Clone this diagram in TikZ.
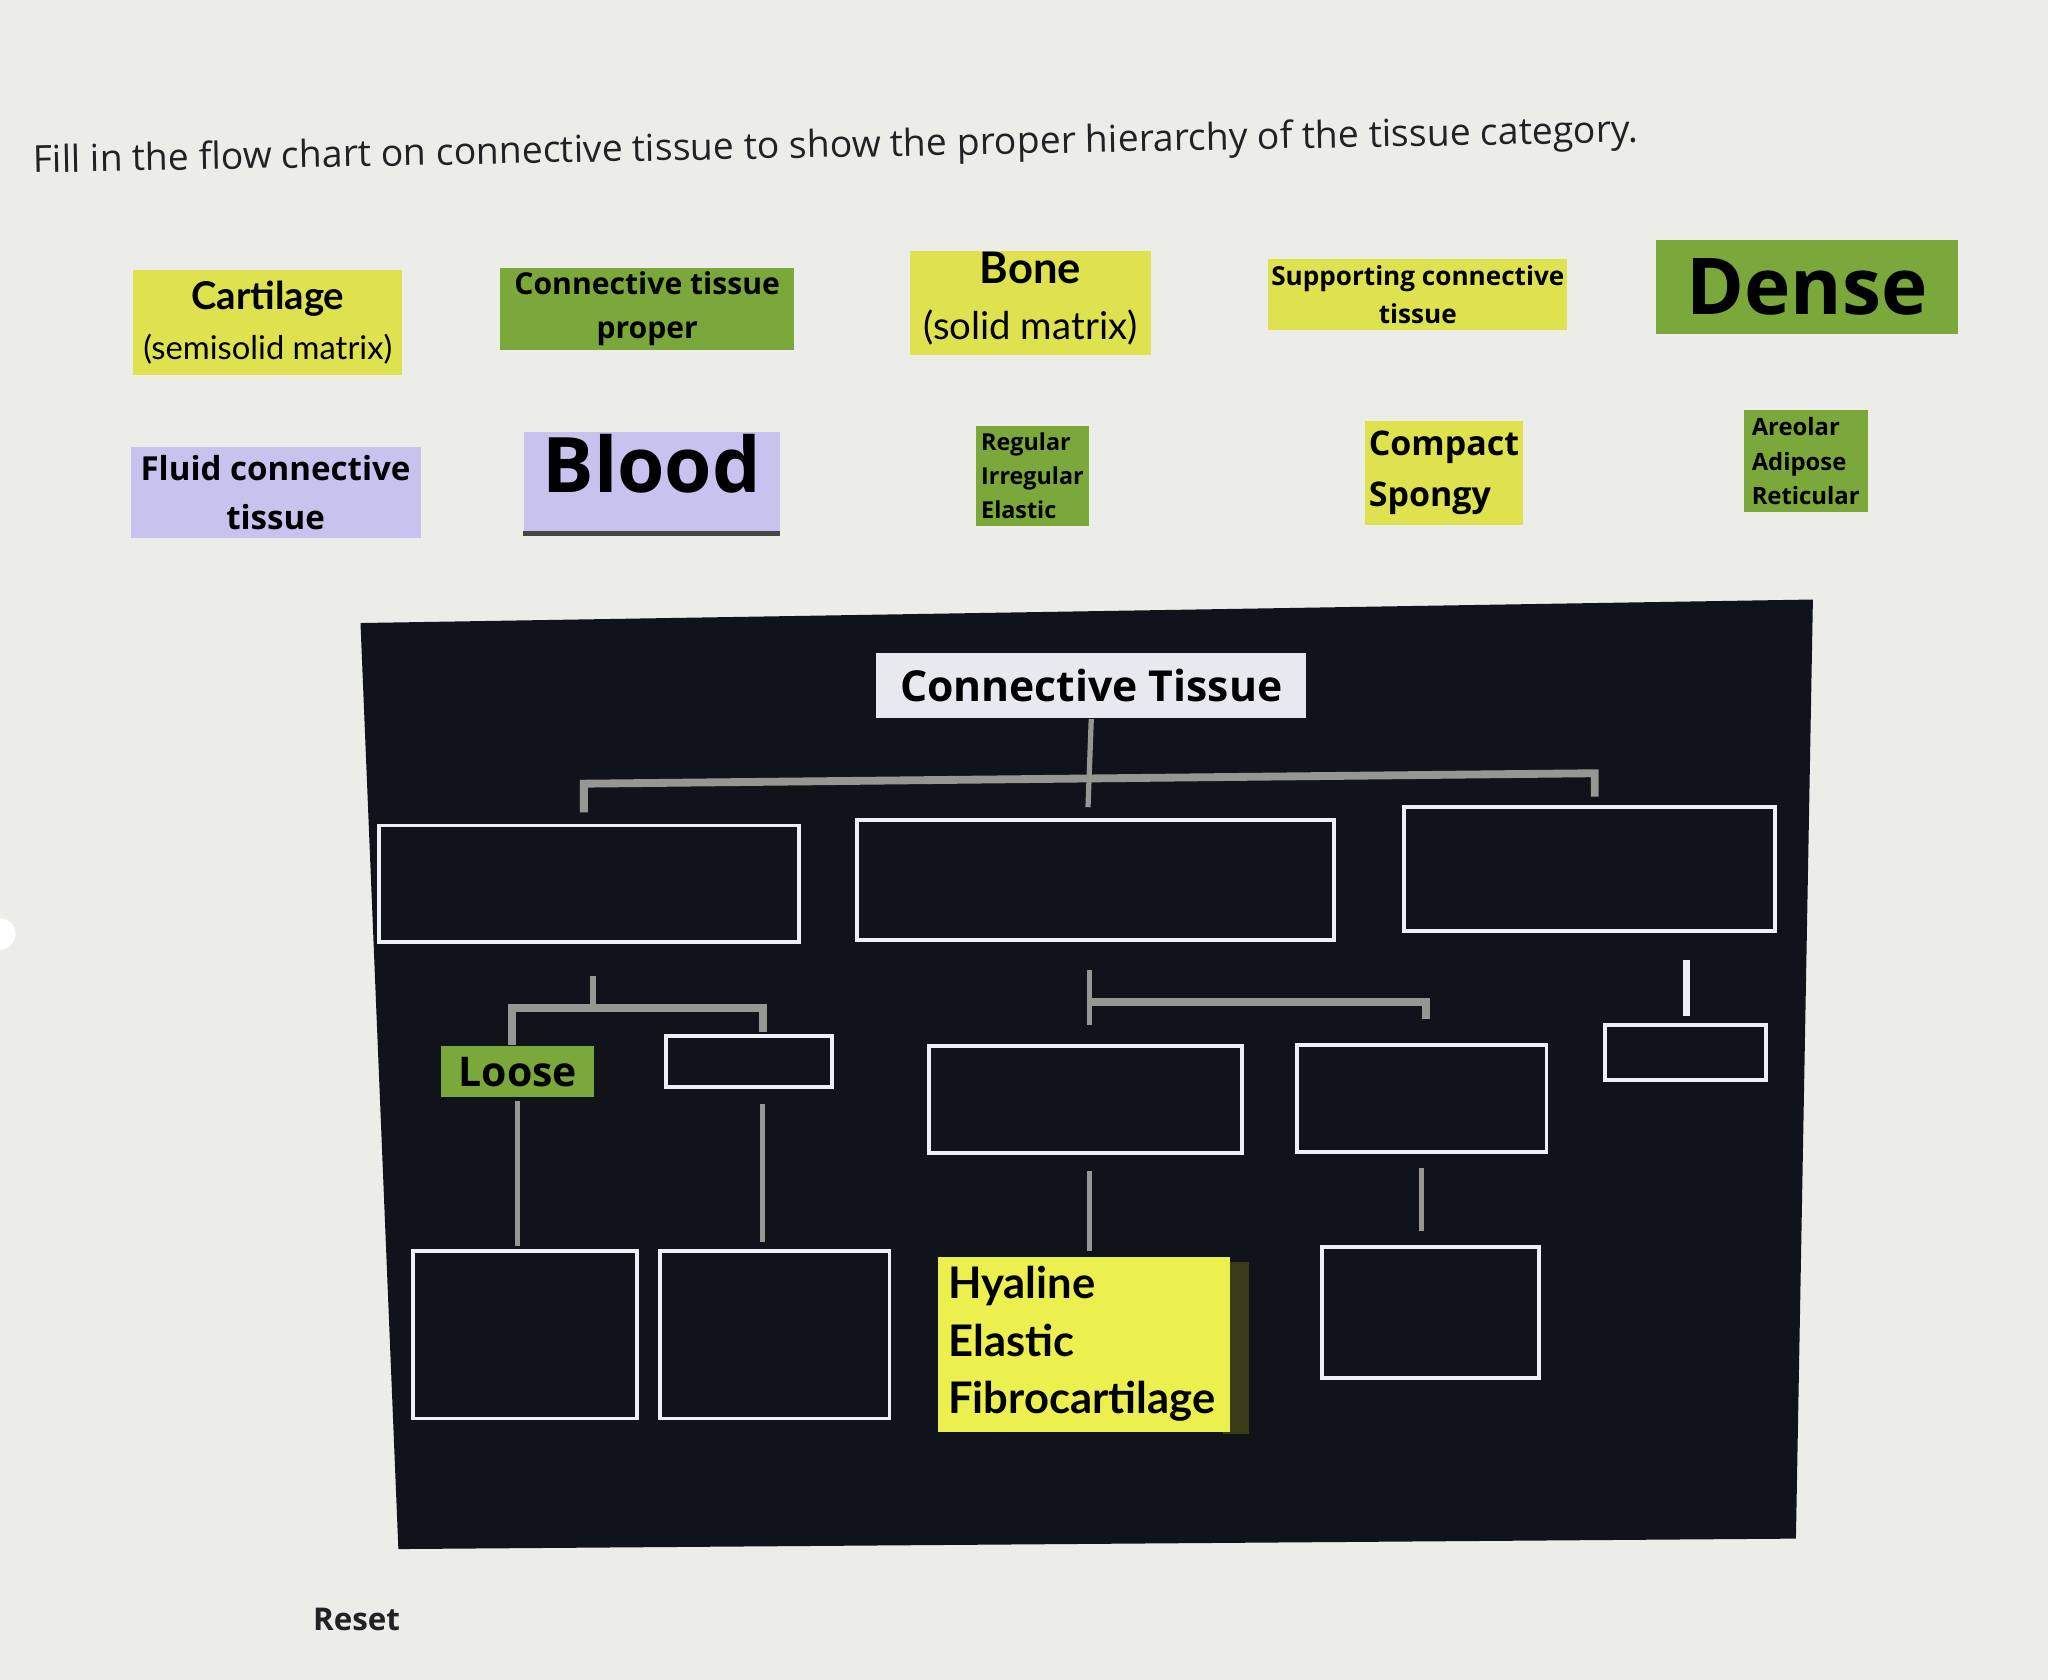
\documentclass[tikz,border=0pt]{standalone}
\usepackage{fontspec}
\setmainfont{Open Sans}
\newfontfamily\gill{Lato}

\definecolor{paper}{RGB}{236,236,233}
\definecolor{tileyellow}{RGB}{222,226,78}
\definecolor{hyyellow}{RGB}{236,240,78}
\definecolor{hyshade}{RGB}{58,60,24}
\definecolor{tilegreen}{RGB}{122,168,58}
\definecolor{tilelilac}{RGB}{199,194,238}
\definecolor{board}{RGB}{16,19,25}
\definecolor{linkgrey}{RGB}{150,150,146}
\definecolor{boxwhite}{RGB}{236,240,244}
\definecolor{headgrey}{RGB}{232,233,238}
\definecolor{inkgrey}{RGB}{34,34,38}
\definecolor{bloodedge}{RGB}{70,70,70}

\tikzset{every picture/.style={line width=0.75pt}}
\tikzset{
  tile/.style={inner sep=0pt, align=center, text=black},
  yellowtile/.style={tile, fill=tileyellow},
  greentile/.style={tile, fill=tilegreen},
  lilactile/.style={tile, fill=tilelilac},
  slot/.style={draw=boxwhite, line width=2.25pt, fill=board, inner sep=0pt},
  stem/.style={draw=linkgrey, line width=3pt},
  bar/.style={draw=linkgrey, line width=4.5pt},
}

\begin{document}
\begin{tikzpicture}[x=0.75pt,y=0.75pt,yscale=-1,xscale=1]
\fill[paper] (0,0) rectangle (1568,1286);
\useasboundingbox (0,0) rectangle (1568,1286);
\fill[white] (0,715) circle (12);

\node[font={\fontsize{21.4}{25}\selectfont}, text=inkgrey, rotate=1.1] (title) at (640,113) {Fill in the flow chart on connective tissue to show the proper hierarchy of the tissue category.};

% tiles
\node[yellowtile, minimum width=154.5pt, minimum height=60pt, font={\gill\fontsize{18.8}{28.5}\selectfont}] (cart) at (205,247) {{\fontsize{22}{28.5}\selectfont\bfseries Cartilage}\\(semisolid matrix)};
\node[greentile, minimum width=168.75pt, minimum height=47.25pt, font={\fontsize{17.3}{25}\selectfont\bfseries}] (ctp) at (495.5,236.5) {Connective tissue\\proper};
\node[yellowtile, minimum width=138pt, minimum height=60pt, font={\gill\fontsize{22}{32}\selectfont}, text depth=8pt] (bone) at (789,232) {{\fontsize{25}{32}\selectfont\bfseries Bone}\\(solid matrix)};
\node[yellowtile, minimum width=171.75pt, minimum height=41.25pt, font={\fontsize{15}{22}\selectfont\bfseries}] (supp) at (1085.5,225.5) {Supporting connective\\tissue};
\node[greentile, minimum width=173.25pt, minimum height=54pt, font={\fontsize{45}{48}\selectfont\bfseries}] (dense) at (1383.5,220) {Dense};

\node[lilactile, minimum width=166.5pt, minimum height=52.5pt, font={\fontsize{19}{28.5}\selectfont\bfseries}] (fluid) at (211,377) {Fluid connective\\tissue};
\node[lilactile, minimum width=147pt, minimum height=57.75pt, font={\fontsize{44}{46}\selectfont\bfseries}, text depth=22pt] (blood) at (499,369.5) {Blood};
\draw[line width=3pt, draw=bloodedge] (blood.south west) -- (blood.south east);
\node[greentile, minimum width=65.25pt, minimum height=57.75pt, align=left, font={\fontsize{13.4}{19.5}\selectfont\bfseries}] (kinds) at (790.5,364.5) {Regular\\Irregular\\Elastic};
\node[yellowtile, minimum width=90.75pt, minimum height=60pt, align=left, font={\fontsize{19.5}{29}\selectfont\bfseries}] (bonekinds) at (1105.5,362) {Compact\\Spongy};
\node[greentile, minimum width=71.25pt, minimum height=58.5pt, align=left, font={\fontsize{13.7}{20}\selectfont\bfseries}] (loosekinds) at (1382.5,353) {Areolar\\Adipose\\Reticular};

% board
\fill[board] (276,477) -- (1388,459) -- (1375,1178) -- (305,1186) -- cycle;

\node[tile, fill=headgrey, minimum width=246.75pt, minimum height=37.5pt, font={\fontsize{24.5}{26}\selectfont\bfseries}] (ct) at (835.5,525) {Connective Tissue};

\node[slot, minimum width=241.5pt, minimum height=66.75pt] (l1a) at (451,676.5) {};
\node[slot, minimum width=273.75pt, minimum height=69pt] (l1b) at (838.5,674) {};
\node[slot, minimum width=213pt, minimum height=71.25pt] (l1c) at (1217,665.5) {};

\node[greentile, minimum width=87.75pt, minimum height=29.25pt, font={\fontsize{23.5}{25}\selectfont\bfseries}] (loose) at (396.5,820.5) {Loose};
\node[slot, minimum width=95.25pt, minimum height=29.25pt] (l2a) at (573.5,812.5) {};
\node[slot, minimum width=129pt, minimum height=96pt] (l3a) at (402,1022) {};
\node[slot, minimum width=132pt, minimum height=96pt] (l3b) at (593,1022) {};

\node[slot, minimum width=180pt, minimum height=61.5pt] (l2b) at (831,842) {};
\node[slot, minimum width=143.25pt, minimum height=61.5pt] (l2c) at (1088.5,841) {};
\fill[hyshade] (936,966) rectangle (956,1098);
\node[tile, fill=hyyellow, minimum width=168pt, minimum height=100.5pt, align=left, text width=156pt, font={\gill\fontsize{25}{33}\selectfont\bfseries}] (hy) at (830,1029) {Hyaline\\Elastic\\Fibrocartilage};
\node[slot, minimum width=124.5pt, minimum height=75pt] (l3d) at (1095,1005) {};

\node[slot, minimum width=92.25pt, minimum height=31.5pt] (l2d) at (1290.5,806) {};

% connectors
\coordinate (t0) at (833,618);
\coordinate (bl) at (447,600);
\coordinate (br) at (1221,592);
\coordinate (bl2) at (447,622);
\coordinate (br2) at (1221,610);
\draw[stem] (ct.south) -- (t0);
\draw[bar] (bl2) -- (bl) -- (br) -- (br2);

\coordinate (a0) at (454,747);
\coordinate (a1) at (454,772);
\coordinate (al) at (392,772);
\coordinate (ar) at (584,772);
\coordinate (al2) at (392,800);
\coordinate (ar2) at (584,790);
\draw[stem] (a0) -- (a1);
\draw[bar] (al2) -- (al) -- (ar) -- (ar2);
\draw[stem, shorten <=2pt, shorten >=2pt] (loose.south) -- (loose.south |- l3a.north);
\draw[stem, shorten <=9pt, shorten >=4pt] (ar |- l2a.south) -- (ar |- l3b.north);

\coordinate (b0) at (834,743);
\coordinate (b1) at (834,785);
\coordinate (bm) at (834,767);
\coordinate (bq) at (1092,767);
\coordinate (bq2) at (1092,780);
\draw[stem] (b0) -- (b1);
\draw[bar] (bm) -- (bq) -- (bq2);
\draw[stem, shorten <=9pt, shorten >=3pt] (bm |- l2b.south) -- (bm |- hy.north);
\draw[stem, shorten <=8pt, shorten >=8pt] (l2c.south) -- (l2c.south |- l3d.north);

\coordinate (c0) at (1291,735);
\coordinate (c1) at (1291,778);
\draw[draw=boxwhite, line width=4pt] (c0) -- (c1);

\node[font={\fontsize{18}{20}\selectfont\bfseries}, text=inkgrey] (reset) at (273,1240) {Reset};

\end{tikzpicture}
\end{document}
